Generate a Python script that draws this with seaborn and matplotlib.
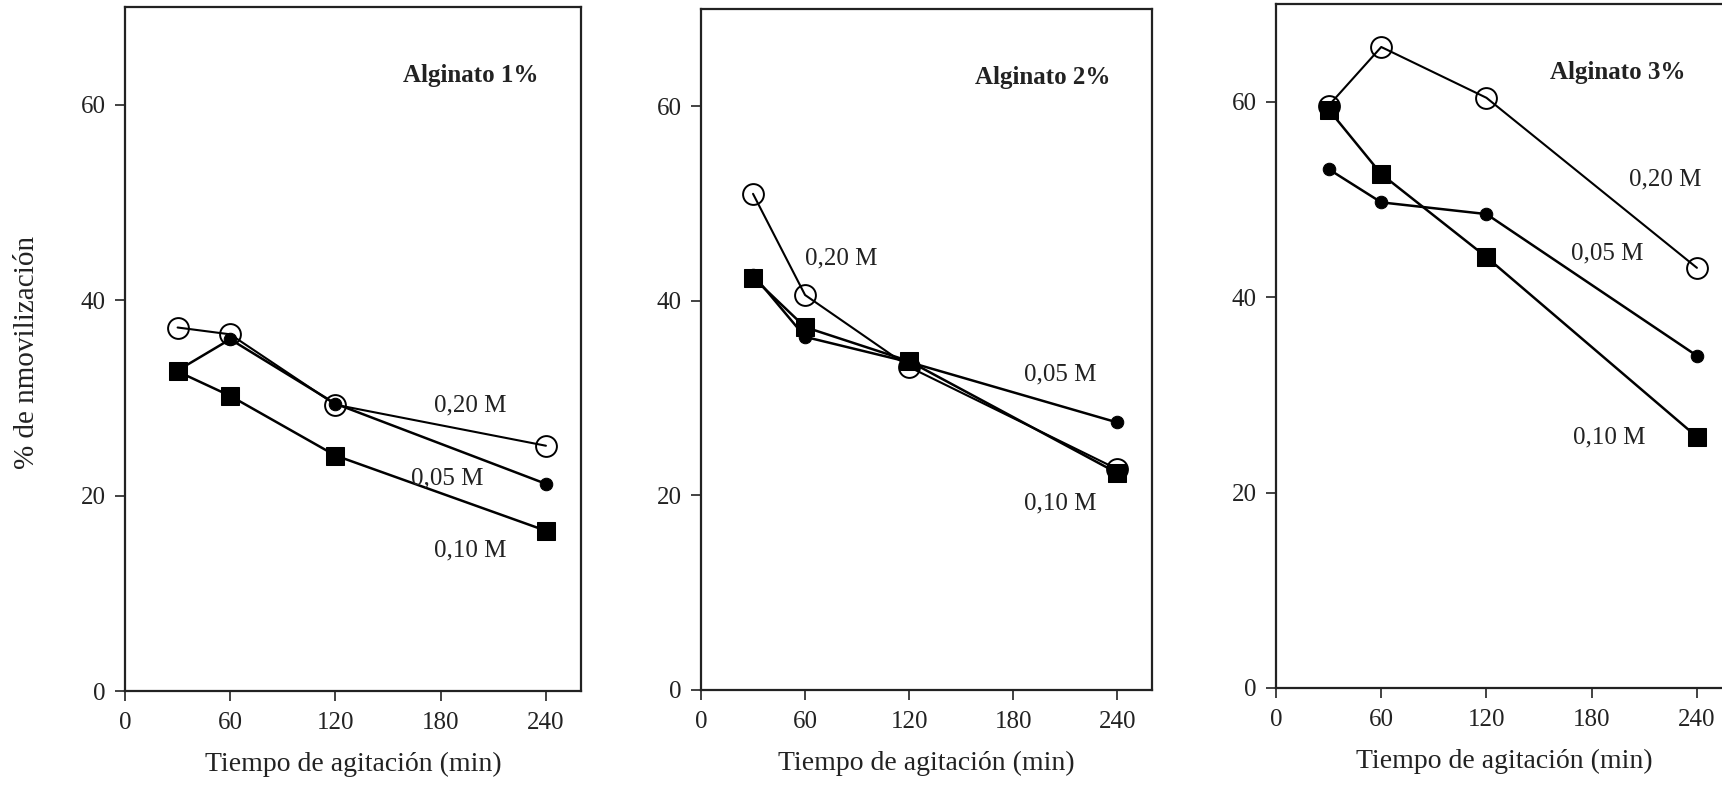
import matplotlib
matplotlib.use("Agg")
import matplotlib.pyplot as plt
import seaborn as sns
import pandas as pd

# ---- data ----
tiempos = [30, 60, 120, 240]
paneles = ["Alginato 1%", "Alginato 2%", "Alginato 3%"]
series = ["0,20 M", "0,05 M", "0,10 M"]

a1_020 = [37.2, 36.5, 29.3, 25.1]
a1_005 = [32.8, 36.0, 29.4, 21.2]
a1_010 = [32.7, 30.2, 24.1, 16.4]

a2_020 = [51.0, 40.6, 33.2, 22.7]
a2_005 = [42.7, 36.3, 33.7, 27.5]
a2_010 = [42.4, 37.3, 33.8, 22.3]

a3_020 = [59.6, 65.6, 60.4, 43.0]
a3_005 = [53.1, 49.7, 48.5, 34.0]
a3_010 = [59.2, 52.6, 44.1, 25.7]

valores = [
    [a1_020, a1_005, a1_010],
    [a2_020, a2_005, a2_010],
    [a3_020, a3_005, a3_010],
]

# label positions (data coords) per panel: [0,20 M, 0,05 M, 0,10 M]
etiquetas_x = [[197, 184, 197], [81, 207, 207], [222, 189, 190]]
etiquetas_y = [[29.2, 21.8, 14.4], [44.4, 32.4, 19.2], [52.0, 44.5, 25.6]]
titulo_xy = [(197, 63.0), (197, 63.0), (195, 63.0)]

xticks = [0, 60, 120, 180, 240]
yticks = [0, 20, 40, 60]

rows = []
for p, pan in enumerate(paneles):
    for s, ser in enumerate(series):
        for t, v in zip(tiempos, valores[p][s]):
            rows.append({"panel": pan, "serie": ser, "t": t, "v": v})
df = pd.DataFrame(rows)

sns.set_theme(style="ticks")
plt.rcParams["font.family"] = ["Liberation Serif", "DejaVu Serif"]

fig = plt.figure(figsize=(17.22, 7.95), dpi=100)
W, H = 1722, 795
boxes = [(125, 581, 7, 691), (701, 1152, 9, 690), (1276, 1732, 4, 688)]
TXT = "#222222"

estilos = {
    "0,20 M": dict(marker="o", markersize=15, markerfacecolor="none",
                   markeredgecolor="black", markeredgewidth=1.4, linewidth=1.5),
    "0,05 M": dict(marker="o", markersize=9, markerfacecolor="black",
                   markeredgecolor="black", linewidth=1.8),
    "0,10 M": dict(marker="s", markersize=13, markerfacecolor="black",
                   markeredgecolor="black", linewidth=1.8),
}

for p, pan in enumerate(paneles):
    l, r, t, b = boxes[p]
    ax = fig.add_axes([l / W, (H - b) / H, (r - l) / W, (b - t) / H])
    sub = df[df.panel == pan]
    for z, ser in enumerate(series):
        d = sub[sub.serie == ser]
        sns.lineplot(data=d, x="t", y="v", ax=ax, color="black",
                     estimator=None, sort=False, zorder=2 + z, **estilos[ser])
    ax.set_xlim(0, 260)
    ax.set_ylim(0, 70)
    ax.set_xticks(xticks)
    ax.set_yticks(yticks)
    ax.tick_params(axis="both", direction="out", length=7, width=1.2,
                   labelsize=18, colors=TXT)
    ax.tick_params(axis="y", pad=7)
    ax.tick_params(axis="x", pad=8)
    for sp in ax.spines.values():
        sp.set_visible(True)
        sp.set_linewidth(1.6)
        sp.set_color(TXT)
    if p == 2:
        ax.spines["right"].set_visible(False)
    ax.set_xlabel("Tiempo de agitación (min)", fontsize=20, labelpad=13,
                  color=TXT)
    ax.set_ylabel("")
    for s, ser in enumerate(series):
        ax.text(etiquetas_x[p][s], etiquetas_y[p][s], ser, fontsize=18,
                ha="center", va="center", color=TXT, zorder=10)
    tx, ty = titulo_xy[p]
    ax.text(tx, ty, pan, fontsize=18, fontweight="bold", ha="center",
            va="center", color=TXT)
    if ax.get_legend() is not None:
        ax.get_legend().remove()

fig.text(27 / W, 1 - 352 / H, "% de nmovilización", rotation=90,
         ha="center", va="center", fontsize=21, color=TXT)

fig.savefig("out.png", dpi=100, facecolor="white")
